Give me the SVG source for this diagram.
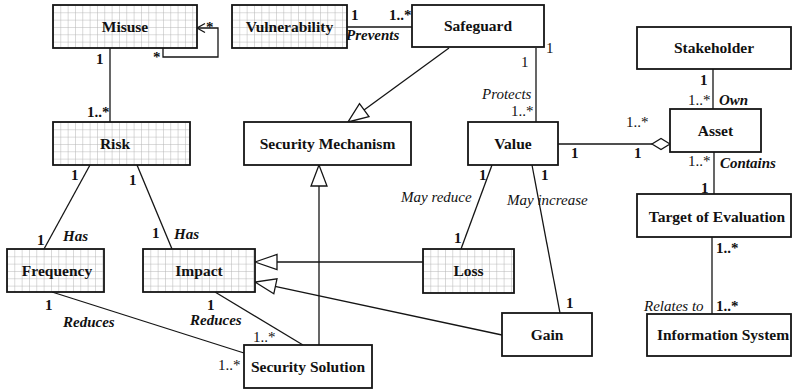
<svg xmlns="http://www.w3.org/2000/svg" width="792" height="390" viewBox="0 0 792 390">
  <defs>
    <pattern id="grid" width="7.33" height="7.33" patternUnits="userSpaceOnUse">
      <rect width="7.33" height="7.33" fill="#fff"/>
      <path d="M0 0 H7.33 M0 0 V7.33" stroke="#b4b4b4" stroke-width="1" fill="none"/>
    </pattern>
    <style>
      .box { fill: #fff; stroke: #151515; stroke-width: 1.8; }
      .hatch { fill: url(#grid); stroke: #151515; stroke-width: 1.8; }
      text { font-family: 'Liberation Serif', 'Times New Roman', serif; font-size: 15px; fill: #111; }
      .name { font-weight: bold; font-size: 15.5px; text-anchor: middle; }
      .line { fill: none; stroke: #151515; stroke-width: 1.3; }
      .head { fill: #fff; stroke: #151515; stroke-width: 1.3; }
      .b { font-weight: bold; }
      .i { font-style: italic; }
    </style>
  </defs>
  <rect width="792" height="390" fill="#fff"/>

  <!-- connectors -->
  <g id="connectors">
    <!-- Misuse - Risk -->
    <line class="line" x1="110" y1="48" x2="110" y2="122"/>
    <!-- Misuse self association -->
    <polyline class="line" points="163,48 163,57 218,57 218,28 197,28"/>
    <polyline class="line" points="205,23.5 197,28 205,32.5"/>
    <!-- Vulnerability - Safeguard -->
    <line class="line" x1="347" y1="27" x2="412" y2="27"/>
    <!-- Safeguard generalizes Security Mechanism -->
    <line class="line" x1="449" y1="48" x2="364" y2="110"/>
    <polygon class="head" points="348,122 369,116.7 359.5,103.7"/>
    <!-- Safeguard - Value -->
    <line class="line" x1="536" y1="48" x2="536" y2="122"/>
    <!-- Value - Asset (aggregation) -->
    <line class="line" x1="558" y1="144" x2="652" y2="144"/>
    <polygon class="head" points="670,144 661,138.5 652,144 661,149.5"/>
    <!-- Stakeholder - Asset -->
    <line class="line" x1="713" y1="69" x2="713" y2="109"/>
    <!-- Asset - Target of Evaluation -->
    <line class="line" x1="714" y1="152" x2="714" y2="194"/>
    <!-- Target of Evaluation - Information System -->
    <line class="line" x1="712" y1="237" x2="712" y2="314"/>
    <!-- Risk - Frequency / Impact -->
    <line class="line" x1="90" y1="165" x2="44" y2="249"/>
    <line class="line" x1="137" y1="165" x2="172" y2="249"/>
    <!-- Value - Loss / Gain -->
    <line class="line" x1="492" y1="165" x2="461" y2="249"/>
    <line class="line" x1="532" y1="165" x2="560" y2="313"/>
    <!-- Loss generalizes Impact -->
    <line class="line" x1="423" y1="262" x2="277" y2="262"/>
    <polygon class="head" points="255,262 277,254.5 277,269.5"/>
    <!-- Gain generalizes Impact -->
    <line class="line" x1="502" y1="335" x2="275" y2="286.3"/>
    <polygon class="head" points="255,282 273.8,293.8 277,278.8"/>
    <!-- Security Solution generalizes Security Mechanism -->
    <line class="line" x1="319" y1="345" x2="319" y2="186"/>
    <polygon class="head" points="319,165 311,186 327,186"/>
    <!-- Frequency / Impact - Security Solution -->
    <line class="line" x1="52" y1="292" x2="244" y2="353"/>
    <line class="line" x1="215" y1="292" x2="303" y2="345"/>
  </g>

  <!-- association labels and multiplicities -->
  <g id="labels">
    <text class="b" x="96" y="64">1</text>
    <text class="b" x="87" y="117">1..*</text>
    <text class="b" x="206" y="32">*</text>
    <text class="b" x="153" y="62">*</text>

    <text class="b" x="351" y="20">1</text>
    <text class="b" x="389" y="20">1..*</text>
    <text class="b i" x="346" y="40">Prevents</text>

    <text x="546" y="53">1</text>
    <text x="521" y="67">1</text>
    <text class="i" x="482" y="99">Protects</text>
    <text x="511" y="116">1..*</text>

    <text class="b" x="571" y="158">1</text>
    <text class="b" x="634" y="158">1</text>
    <text x="626" y="127">1..*</text>

    <text class="b" x="700" y="85">1</text>
    <text x="688" y="105">1..*</text>
    <text class="b i" x="719" y="105">Own</text>
    <text x="688" y="166">1..*</text>
    <text class="b i" x="720" y="168">Contains</text>
    <text class="b" x="701" y="193">1</text>

    <text class="b" x="716" y="253">1..*</text>
    <text class="b" x="716" y="311">1..*</text>
    <text class="i" x="644" y="311">Relates to</text>

    <text class="b" x="71" y="180">1</text>
    <text class="b" x="37" y="245">1</text>
    <text class="b i" x="63" y="241">Has</text>
    <text class="b" x="129" y="185">1</text>
    <text class="b" x="152" y="238">1</text>
    <text class="b i" x="174" y="239">Has</text>

    <text class="b" x="479" y="180">1</text>
    <text class="b" x="541" y="180">1</text>
    <text class="i" x="401" y="202">May reduce</text>
    <text class="i" x="507" y="205">May increase</text>
    <text class="b" x="454" y="243">1</text>
    <text class="b" x="566" y="308">1</text>

    <text class="b" x="45" y="310">1</text>
    <text class="b i" x="63" y="327">Reduces</text>
    <text x="218" y="370">1..*</text>
    <text class="b" x="207" y="310">1</text>
    <text class="b i" x="190" y="325">Reduces</text>
    <text x="253" y="342">1..*</text>
  </g>

  <!-- classes -->
  <g id="misuse" transform="translate(53,5)">
    <rect class="hatch" width="144" height="43"/>
    <text class="name" x="72" y="27">Misuse</text>
  </g>
  <g id="vulnerability" transform="translate(232,5)">
    <rect class="hatch" width="115" height="43"/>
    <text class="name" x="57.5" y="27">Vulnerability</text>
  </g>
  <g id="safeguard" transform="translate(412,5)">
    <rect class="box" width="132" height="42"/>
    <text class="name" x="66" y="26">Safeguard</text>
  </g>
  <g id="stakeholder" transform="translate(637,27)">
    <rect class="box" width="154" height="42"/>
    <text class="name" x="77" y="26">Stakeholder</text>
  </g>
  <g id="asset" transform="translate(670,109)">
    <rect class="box" width="91" height="43"/>
    <text class="name" x="45.5" y="27">Asset</text>
  </g>
  <g id="value" transform="translate(468,122)">
    <rect class="box" width="90" height="43"/>
    <text class="name" x="45" y="27">Value</text>
  </g>
  <g id="security-mechanism" transform="translate(244,122)">
    <rect class="box" width="167" height="43"/>
    <text class="name" x="83.5" y="27">Security Mechanism</text>
  </g>
  <g id="risk" transform="translate(53,122)">
    <rect class="hatch" width="137" height="43"/>
    <text class="name" x="62" y="27">Risk</text>
  </g>
  <g id="frequency" transform="translate(7,249)">
    <rect class="hatch" width="97" height="43"/>
    <text class="name" x="50" y="27">Frequency</text>
  </g>
  <g id="impact" transform="translate(143,249)">
    <rect class="hatch" width="112" height="43"/>
    <text class="name" x="56" y="27">Impact</text>
  </g>
  <g id="loss" transform="translate(423,249)">
    <rect class="hatch" width="91" height="44"/>
    <text class="name" x="45.5" y="27">Loss</text>
  </g>
  <g id="gain" transform="translate(502,313)">
    <rect class="box" width="90" height="43"/>
    <text class="name" x="45" y="27">Gain</text>
  </g>
  <g id="target-of-evaluation" transform="translate(637,194)">
    <rect class="box" width="154" height="43"/>
    <text class="name" x="80" y="28">Target of Evaluation</text>
  </g>
  <g id="information-system" transform="translate(647,314)">
    <rect class="box" width="144" height="42"/>
    <text class="name" x="76" y="26">Information System</text>
  </g>
  <g id="security-solution" transform="translate(244,345)">
    <rect class="box" width="128" height="43"/>
    <text class="name" x="64" y="27">Security Solution</text>
  </g>
</svg>
